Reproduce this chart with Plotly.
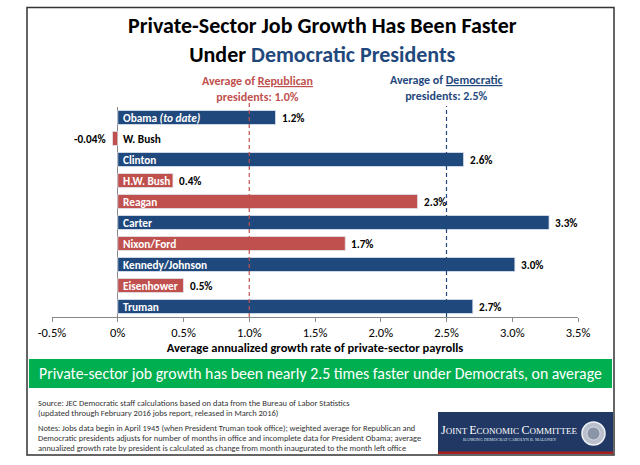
import plotly.graph_objects as go

W, H = 640, 465
FONT = "Carlito, Lato, 'Open Sans', sans-serif"
BLUE = "#1F497D"
RED = "#C0504D"

presidents = ["Truman", "Eisenhower", "Kennedy/Johnson", "Nixon/Ford", "Carter",
              "Reagan", "H.W. Bush", "Clinton", "W. Bush", "Obama (to date)"]
bar_names = ["Truman", "Eisenhower", "Kennedy/Johnson", "Nixon/Ford", "Carter",
             "Reagan", "H.W. Bush", "Clinton", "W. Bush", "Obama <i>(to date)</i>"]
growth = [2.70, 0.50, 3.02, 1.73, 3.28, 2.28, 0.42, 2.63, -0.04, 1.20]
party = ["D", "R", "D", "R", "D", "R", "R", "D", "R", "D"]
value_labels = ["2.7%", "0.5%", "3.0%", "1.7%", "3.3%", "2.3%", "0.4%", "2.6%", "-0.04%", "1.2%"]

tick_vals = [-0.5, 0, 0.5, 1.0, 1.5, 2.0, 2.5, 3.0, 3.5]
tick_text = ["-0.5%", "0%", "0.5%", "1.0%", "1.5%", "2.0%", "2.5%", "3.0%", "3.5%"]

rep_avg = 1.0
dem_avg = 2.5

source_lines = [
    "Source: JEC Democratic staff calculations based on data from the Bureau of Labor Statistics",
    "(updated through February 2016 jobs report, released in March 2016)",
]
note_lines = [
    "Notes: Jobs data begin in April 1945 (when President Truman took office); weighted average for Republican and",
    "Democratic presidents adjusts for number of months in office and incomplete data for President Obama; average",
    "annualized growth rate by president is calculated as change from month inaugurated to the month left office",
]


def px(x):
    return x / W


def py(y):
    return 1 - y / H


def note(x, y, text, size, color, xanchor="center", family=FONT):
    return dict(x=px(x), y=py(y), xref="paper", yref="paper", showarrow=False,
                xanchor=xanchor, yanchor="middle", text=text,
                font=dict(family=family, size=size, color=color))


colors = [BLUE if p == "D" else RED for p in party]

fig = go.Figure()
fig.add_trace(go.Bar(
    x=growth, y=presidents, orientation="h",
    marker=dict(color=colors, line=dict(color="#dfe6f0", width=0.8)),
    hoverinfo="x+y", showlegend=False,
))

ann = []
# names inside bars
for name, val, p in zip(presidents, growth, bar_names):
    ann.append(dict(x=0, y=name, xref="x", yref="y", text="<b>%s</b>" % p,
                    xanchor="left", yanchor="middle", xshift=3, showarrow=False,
                    font=dict(family=FONT, size=11.3,
                              color="black" if val < 0 else "white")))
# value labels
for name, val, lab in zip(presidents, growth, value_labels):
    ann.append(dict(x=val, y=name, xref="x", yref="y", text="<b>%s</b>" % lab,
                    xanchor="right" if val < 0 else "left", yanchor="middle",
                    xshift=-4 if val < 0 else 4, showarrow=False,
                    font=dict(family=FONT, size=11.2, color="black")))

# title
ann.append(note(322, 40, "<b>Private-Sector Job Growth Has Been Faster<br>Under "
                         "<span style='color:%s'>Democratic Presidents</span></b>" % BLUE,
                22, "black"))
# average callouts
ann.append(dict(x=1.06, y=py(89), xref="x", yref="paper", showarrow=False,
                xanchor="center", yanchor="middle",
                text="<b>Average of <u>Republican</u><br>presidents: 1.0%</b>",
                font=dict(family=FONT, size=12, color=RED)))
ann.append(dict(x=dem_avg, y=py(88), xref="x", yref="paper", showarrow=False,
                xanchor="center", yanchor="middle",
                text="<b>Average of <u>Democratic</u><br>presidents: 2.5%</b>",
                font=dict(family=FONT, size=12, color=BLUE)))
# green banner text
ann.append(note(320, 373.5,
                "Private-sector job growth has been nearly 2.5 times faster under Democrats, on average",
                15.8, "white"))
# source and notes
for i, line in enumerate(source_lines):
    ann.append(note(36, 403 + 9.5 * i, line, 8.5, "#333333", xanchor="left"))
for i, line in enumerate(note_lines):
    ann.append(note(36, 428 + 10 * i, line, 8.4, "#333333", xanchor="left"))
# logo text
ann.append(note(509, 430,
                "<span style='font-size:12px'>J</span>OINT <span style='font-size:12px'>E</span>CONOMIC "
                "<span style='font-size:12px'>C</span>OMMITTEE",
                9, "white", family="Liberation Serif, serif"))
ann.append(note(509, 439, "BANKING DEMOCRAT CAROLYN B. MALONEY", 4.3, "#dde3ee",
                family="Liberation Serif, serif"))

shapes = [
    # outer frame
    dict(type="rect", xref="paper", yref="paper", x0=px(27), x1=px(614), y0=py(7.5), y1=py(455),
         line=dict(color="#333333", width=1.5), layer="below"),
    # green banner
    dict(type="rect", xref="paper", yref="paper", x0=px(29), x1=px(612), y0=py(359), y1=py(388),
         fillcolor="#00B050", line=dict(width=0), layer="below"),
    # logo box
    dict(type="rect", xref="paper", yref="paper", x0=px(438), x1=px(613), y0=py(412), y1=py(454),
         fillcolor="#213864", line=dict(width=0), layer="below"),
    dict(type="rect", xref="paper", yref="paper", x0=px(438), x1=px(613), y0=py(451.5), y1=py(454),
         fillcolor="#A3201F", line=dict(width=0), layer="below"),
    dict(type="circle", xref="paper", yref="paper", x0=px(582), x1=px(605), y0=py(422), y1=py(445),
         fillcolor="#b9c0cc", line=dict(color="#eef1f5", width=1.5), layer="above"),
    dict(type="circle", xref="paper", yref="paper", x0=px(587), x1=px(600), y0=py(427), y1=py(440),
         fillcolor="#8b95a8", line=dict(color="#dfe3ea", width=0.8), layer="above"),
    # average lines
    dict(type="line", xref="x", yref="paper", x0=rep_avg, x1=rep_avg, y0=py(317), y1=py(103),
         line=dict(color=RED, width=1.2, dash="4px,3px"), layer="above"),
    dict(type="line", xref="x", yref="paper", x0=dem_avg, x1=dem_avg, y0=py(317), y1=py(106),
         line=dict(color=BLUE, width=1.2, dash="4px,3px"), layer="above"),
]

fig.update_layout(
    width=W, height=H,
    margin=dict(l=0, r=0, t=0, b=0, autoexpand=False),
    paper_bgcolor="white", plot_bgcolor="white",
    bargap=0.33,
    annotations=ann, shapes=shapes,
    xaxis=dict(
        domain=[px(52), px(578)], range=[-0.5, 3.5],
        tickvals=tick_vals, ticktext=tick_text,
        ticks="outside", ticklen=4, tickcolor="#888888",
        showline=True, linecolor="#888888", linewidth=1,
        showgrid=False, zeroline=True, zerolinecolor="#888888", zerolinewidth=1,
        tickfont=dict(family=FONT, size=12.5, color="black"),
        title=dict(text="<b>Average annualized growth rate of private-sector payrolls</b>",
                   font=dict(family=FONT, size=12.5, color="black"), standoff=2),
        automargin=False, fixedrange=True,
    ),
    yaxis=dict(
        domain=[py(317), py(107)], range=[-0.5, 9.5],
        categoryorder="array", categoryarray=presidents,
        showticklabels=False, showgrid=False, zeroline=False, showline=False,
        automargin=False, fixedrange=True,
    ),
)

# the page body keeps its default 8px margin otherwise
fig.write_html("out.html", config={"displayModeBar": False},
               post_script="document.body.style.margin='0';")
